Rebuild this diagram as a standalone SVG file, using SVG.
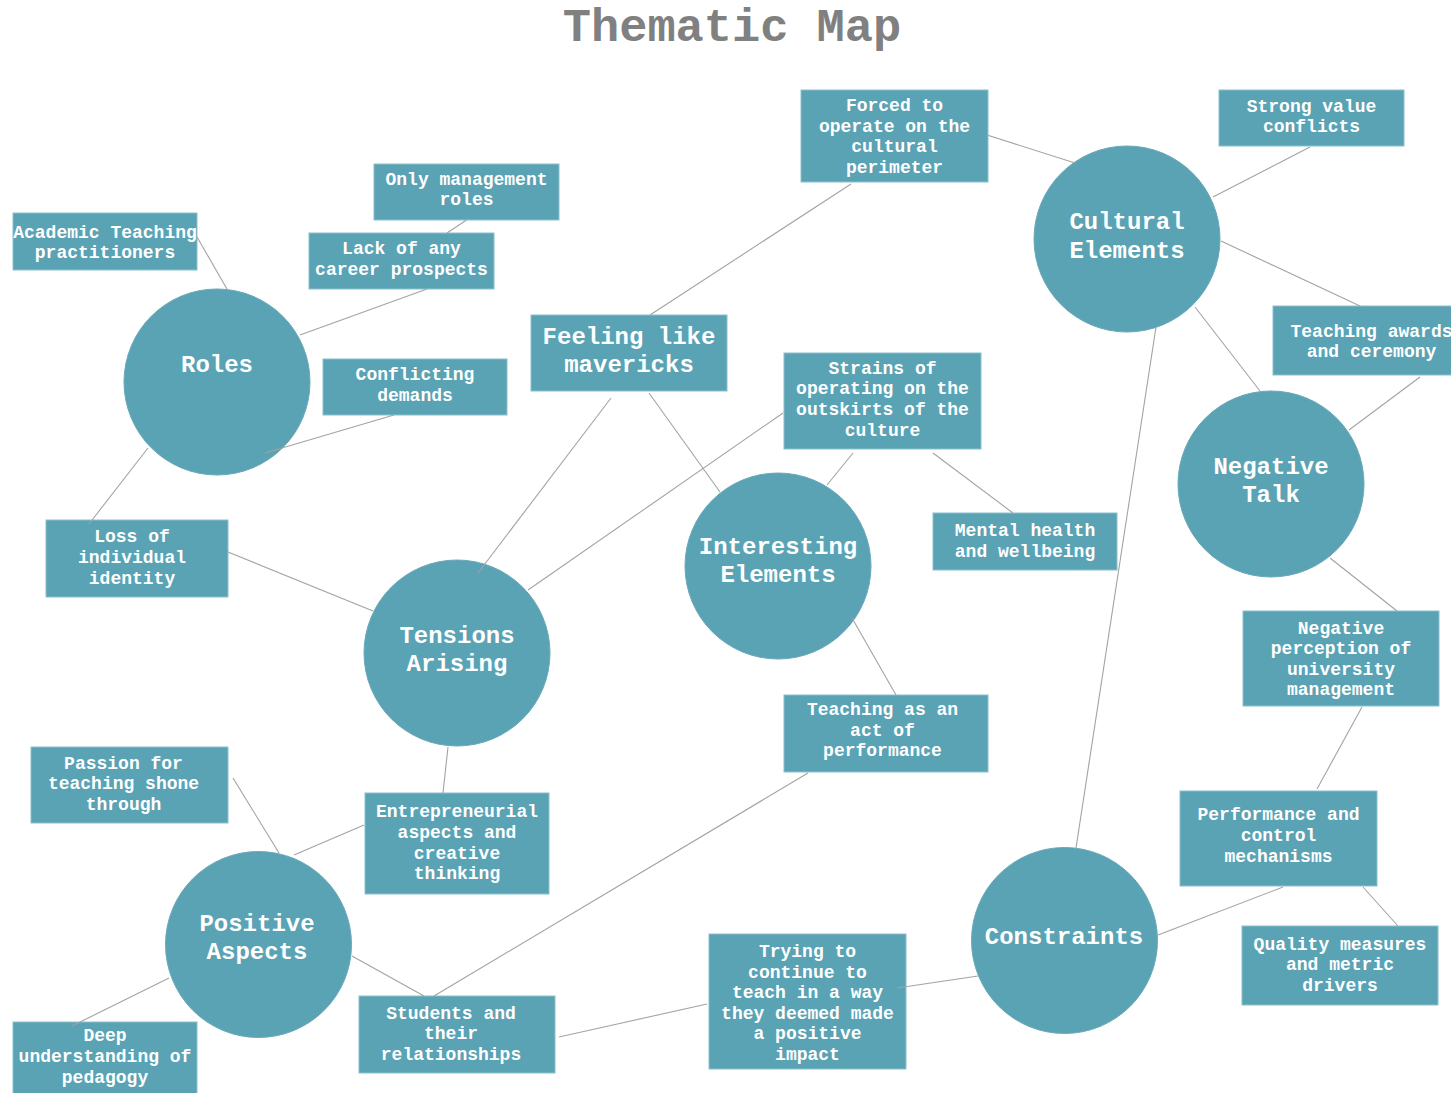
<svg xmlns="http://www.w3.org/2000/svg" width="1451" height="1093" viewBox="0 0 1451 1093">
  <style>
    .theme { fill: #5aa3b5; stroke: #6aa9b8; stroke-width: 1; }
    .box { fill: #5aa3b5; stroke: #8cc0cd; stroke-width: 1; }
    .t { font-family: "Courier New", "Liberation Mono", monospace; fill: #ffffff; text-anchor: middle; font-weight: bold; }
    .s { font-size: 18px; }
    .b { font-size: 24px; }
    .title { font-family: "Courier New", "Liberation Mono", monospace; font-size: 47px; font-weight: bold; fill: #808080; text-anchor: middle; }
    .edge { stroke: #a3a3a3; stroke-width: 1.1; fill: none; }
  </style>
  <rect width="1451" height="1093" fill="#ffffff"/>

  <text class="title" x="732" y="41">Thematic Map</text>

  <!-- themes (circles) -->
  <g id="roles"><circle class="theme" cx="217" cy="382" r="93"/><text class="t b" x="217" y="372">Roles</text></g>
  <g id="cultural-elements"><circle class="theme" cx="1127" cy="239" r="93"/><text class="t b" x="1127"><tspan x="1127" y="229">Cultural</tspan><tspan x="1127" y="258">Elements</tspan></text></g>
  <g id="negative-talk"><circle class="theme" cx="1271" cy="484" r="93"/><text class="t b"><tspan x="1271" y="474">Negative</tspan><tspan x="1271" y="502">Talk</tspan></text></g>
  <g id="interesting-elements"><circle class="theme" cx="778" cy="566" r="93"/><text class="t b"><tspan x="778" y="554">Interesting</tspan><tspan x="778" y="582">Elements</tspan></text></g>
  <g id="tensions-arising"><circle class="theme" cx="457" cy="653" r="93"/><text class="t b"><tspan x="457" y="643">Tensions</tspan><tspan x="457" y="671">Arising</tspan></text></g>
  <g id="positive-aspects"><circle class="theme" cx="258.5" cy="944.5" r="93"/><text class="t b"><tspan x="257" y="931">Positive</tspan><tspan x="257" y="959">Aspects</tspan></text></g>
  <g id="constraints"><circle class="theme" cx="1064.5" cy="940.5" r="93"/><text class="t b" x="1064" y="944">Constraints</text></g>

  <!-- sub-themes (boxes) -->
  <g id="academic-teaching"><rect class="box" x="13" y="213" width="184" height="57"/><text class="t s"><tspan x="105" y="238">Academic Teaching</tspan><tspan x="105" y="258">practitioners</tspan></text></g>
  <g id="only-management"><rect class="box" x="374" y="164" width="185" height="56"/><text class="t s"><tspan x="466.5" y="185">Only management</tspan><tspan x="466.5" y="205">roles</tspan></text></g>
  <g id="career-prospects"><rect class="box" x="309" y="233" width="185" height="56"/><text class="t s"><tspan x="401.5" y="254">Lack of any</tspan><tspan x="401.5" y="275">career prospects</tspan></text></g>
  <g id="conflicting-demands"><rect class="box" x="323" y="359" width="184" height="56"/><text class="t s"><tspan x="415" y="380">Conflicting</tspan><tspan x="415" y="401">demands</tspan></text></g>
  <g id="mavericks"><rect class="box" x="531" y="315" width="196" height="76"/><text class="t b"><tspan x="629" y="344">Feeling like</tspan><tspan x="629" y="372">mavericks</tspan></text></g>
  <g id="strains"><rect class="box" x="784" y="353" width="197" height="96"/><text class="t s"><tspan x="882.5" y="373.5">Strains of</tspan><tspan x="882.5" y="394">operating on the</tspan><tspan x="882.5" y="415">outskirts of the</tspan><tspan x="882.5" y="435.5">culture</tspan></text></g>
  <g id="mental-health"><rect class="box" x="933" y="513" width="184" height="57"/><text class="t s"><tspan x="1025" y="535.5">Mental health</tspan><tspan x="1025" y="556.5">and wellbeing</tspan></text></g>
  <g id="cultural-perimeter"><rect class="box" x="801" y="90" width="187" height="92"/><text class="t s"><tspan x="894.5" y="110.5">Forced to</tspan><tspan x="894.5" y="131.5">operate on the</tspan><tspan x="894.5" y="152">cultural</tspan><tspan x="894.5" y="172.5">perimeter</tspan></text></g>
  <g id="value-conflicts"><rect class="box" x="1219" y="90" width="185" height="56"/><text class="t s"><tspan x="1311.5" y="111.5">Strong value</tspan><tspan x="1311.5" y="132">conflicts</tspan></text></g>
  <g id="teaching-awards"><rect class="box" x="1273" y="306" width="197" height="69"/><text class="t s"><tspan x="1371.5" y="336.5">Teaching awards</tspan><tspan x="1371.5" y="357">and ceremony</tspan></text></g>
  <g id="negative-perception"><rect class="box" x="1243" y="611" width="196" height="95"/><text class="t s"><tspan x="1341" y="633.5">Negative</tspan><tspan x="1341" y="654">perception of</tspan><tspan x="1341" y="674.5">university</tspan><tspan x="1341" y="695">management</tspan></text></g>
  <g id="performance-control"><rect class="box" x="1180" y="791" width="197" height="95"/><text class="t s"><tspan x="1278.5" y="820">Performance and</tspan><tspan x="1278.5" y="841">control</tspan><tspan x="1278.5" y="861.5">mechanisms</tspan></text></g>
  <g id="quality-measures"><rect class="box" x="1242" y="926" width="196" height="79"/><text class="t s"><tspan x="1340" y="949.5">Quality measures</tspan><tspan x="1340" y="970">and metric</tspan><tspan x="1340" y="990.5">drivers</tspan></text></g>
  <g id="loss-identity"><rect class="box" x="46" y="520" width="182" height="77"/><text class="t s"><tspan x="132" y="541.5">Loss of</tspan><tspan x="132" y="562.5">individual</tspan><tspan x="132" y="583.5">identity</tspan></text></g>
  <g id="passion"><rect class="box" x="31" y="747" width="197" height="76"/><text class="t s"><tspan x="123.5" y="768.5">Passion for</tspan><tspan x="123.5" y="789">teaching shone</tspan><tspan x="123.5" y="810">through</tspan></text></g>
  <g id="entrepreneurial"><rect class="box" x="365" y="793" width="184" height="101"/><text class="t s"><tspan x="457" y="816.5">Entrepreneurial</tspan><tspan x="457" y="837.5">aspects and</tspan><tspan x="457" y="858.5">creative</tspan><tspan x="457" y="879">thinking</tspan></text></g>
  <g id="pedagogy"><rect class="box" x="13" y="1022" width="184" height="75"/><text class="t s"><tspan x="105" y="1041">Deep</tspan><tspan x="105" y="1061.5">understanding of</tspan><tspan x="105" y="1082.5">pedagogy</tspan></text></g>
  <g id="students"><rect class="box" x="359" y="996" width="196" height="77"/><text class="t s"><tspan x="451" y="1018.5">Students and</tspan><tspan x="451" y="1039">their</tspan><tspan x="451" y="1060">relationships</tspan></text></g>
  <g id="performance-act"><rect class="box" x="784" y="695" width="204" height="77"/><text class="t s"><tspan x="882.5" y="715">Teaching as an</tspan><tspan x="882.5" y="735.5">act of</tspan><tspan x="882.5" y="756">performance</tspan></text></g>
  <g id="positive-impact"><rect class="box" x="709" y="934" width="197" height="135"/><text class="t s"><tspan x="807.5" y="957">Trying to</tspan><tspan x="807.5" y="977.5">continue to</tspan><tspan x="807.5" y="998">teach in a way</tspan><tspan x="807.5" y="1018.5">they deemed made</tspan><tspan x="807.5" y="1039">a positive</tspan><tspan x="807.5" y="1059.5">impact</tspan></text></g>

  <!-- connectors -->
  <g id="connectors" class="edge">
    <line x1="197" y1="237" x2="227" y2="289"/>
    <line x1="427" y1="289" x2="300" y2="335"/>
    <line x1="466.5" y1="220" x2="447" y2="233"/>
    <line x1="394" y1="415" x2="265" y2="453"/>
    <line x1="148" y1="448" x2="89" y2="524"/>
    <line x1="228" y1="552" x2="373" y2="611"/>
    <line x1="611" y1="398" x2="478" y2="573"/>
    <line x1="649" y1="393" x2="720" y2="492"/>
    <line x1="650" y1="315" x2="851" y2="184"/>
    <line x1="987" y1="135" x2="1075" y2="163"/>
    <line x1="1310" y1="147" x2="1213" y2="197"/>
    <line x1="1221" y1="241" x2="1360" y2="306"/>
    <line x1="1195" y1="307" x2="1260" y2="391"/>
    <line x1="1420" y1="377" x2="1349" y2="430"/>
    <line x1="1330" y1="558" x2="1397" y2="611"/>
    <line x1="1362" y1="707" x2="1317" y2="789"/>
    <line x1="1363" y1="887" x2="1398" y2="926"/>
    <line x1="1283" y1="887" x2="1158" y2="935"/>
    <line x1="1156" y1="327" x2="1076" y2="848"/>
    <line x1="978" y1="976" x2="897" y2="988"/>
    <line x1="707" y1="1004" x2="559" y2="1037"/>
    <line x1="434" y1="996" x2="808" y2="773"/>
    <line x1="352" y1="956" x2="424" y2="996"/>
    <line x1="294" y1="855" x2="364" y2="825"/>
    <line x1="233" y1="778" x2="279" y2="853"/>
    <line x1="169" y1="978" x2="72" y2="1026"/>
    <line x1="448" y1="747" x2="443" y2="793"/>
    <line x1="528" y1="590" x2="783" y2="413"/>
    <line x1="853" y1="453" x2="827" y2="485"/>
    <line x1="933" y1="453" x2="1013" y2="513"/>
    <line x1="852" y1="618" x2="896" y2="695"/>
  </g>
</svg>
